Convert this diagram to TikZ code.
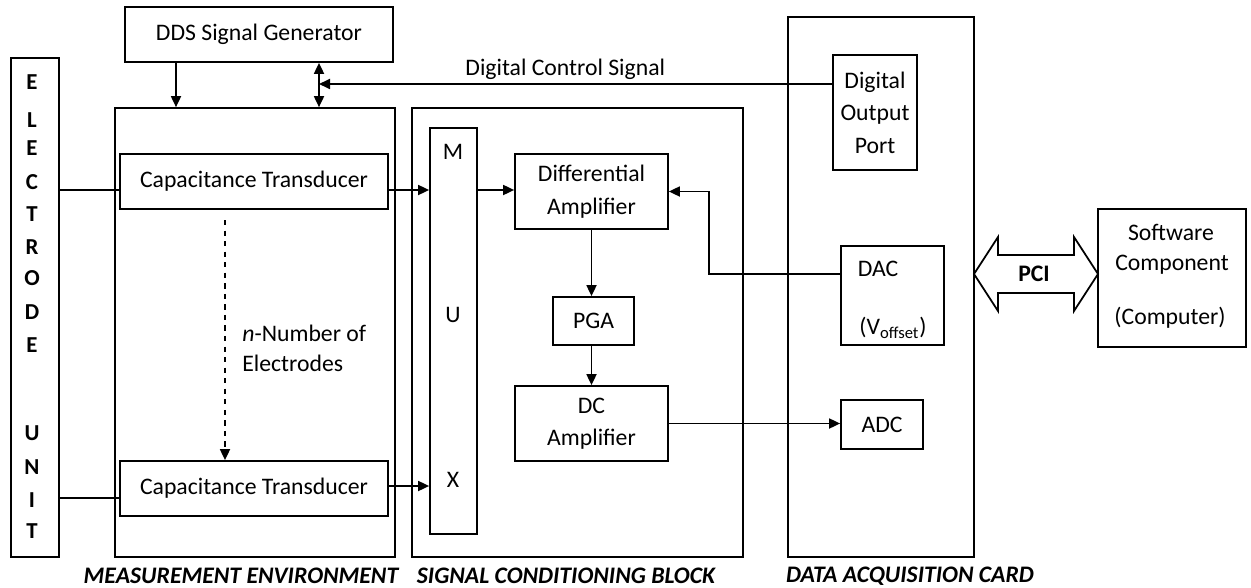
\documentclass[tikz,border=0pt]{standalone}
\usepackage{fontspec}
\setmainfont{Carlito}
\usetikzlibrary{arrows.meta}

\begin{document}
\begin{tikzpicture}[x=0.02cm, y=-0.02cm,
    blk/.style={draw, line width=1pt, align=center, inner sep=0pt,
                font=\fontsize{13.5}{18.5}\selectfont},
    txt/.style={inner sep=0pt, font=\fontsize{13.5}{18.5}\selectfont},
    lbl/.style={inner sep=0pt, font=\bfseries\itshape\fontsize{13.5}{15}\selectfont},
    arr/.style={draw, line width=1pt, -{Triangle[length=2.2mm,width=2mm]}},
    darr/.style={draw, line width=1pt,
                 {Triangle[length=2.2mm,width=2mm]}-{Triangle[length=2.2mm,width=2mm]}},
    ln/.style={draw, line width=1pt}
  ]
  \useasboundingbox (0,0) rectangle (1251,588);

  % electrode unit
  \node[blk, minimum width=0.96cm, minimum height=9.98cm] (elec) at (35,307.5) {};
  \foreach \y/\c in {82/E,120/L,148/E,182/C,214/T,247/R,278/O,312/D,345/E,
                     433/U,467/N,500/I,531/T}
    \node[txt, font=\bfseries\fontsize{13}{14}\selectfont] at (32,\y) {\c};

  % measurement environment
  \node[blk, minimum width=5.36cm, minimum height=1.1cm] (dds) at (259,34.5) {DDS Signal Generator};
  \node[blk, minimum width=5.6cm, minimum height=8.98cm] (meas) at (255,332.5) {};
  \node[blk, minimum width=5.36cm, minimum height=1.1cm] (ct1) at (254,181.5) {Capacitance Transducer};
  \node[blk, minimum width=5.36cm, minimum height=1.1cm] (ct2) at (254,488.5) {Capacitance Transducer};
  \node[txt, align=left, anchor=west, font=\fontsize{13.5}{17}\selectfont] (nel) at (242,348)
    {\textit{n}-Number of\\Electrodes};

  % signal conditioning block
  \node[blk, minimum width=6.62cm, minimum height=8.98cm] (sig) at (577.5,332.5) {};
  \node[blk, minimum width=0.94cm, minimum height=8.12cm] (mux) at (453.5,331) {};
  \foreach \y/\c in {152/M,315/U,480/X}
    \node[txt] at (453,\y) {\c};
  \node[blk, minimum width=3.06cm, minimum height=1.5cm] (diff) at (591.5,191.5) {Differential\\Amplifier};
  \node[blk, minimum width=1.62cm, minimum height=0.96cm] (pga) at (593.5,321) {PGA};
  \node[blk, minimum width=3.06cm, minimum height=1.5cm] (dc) at (591.5,423.5) {DC\\Amplifier};

  % data acquisition card
  \node[blk, minimum width=3.72cm, minimum height=10.8cm] (daq) at (881,287) {};
  \node[blk, minimum width=1.68cm, minimum height=2.3cm] (dop) at (875,112.5) {Digital\\Output\\Port};
  \node[blk, minimum width=2.06cm, minimum height=1.98cm] (dac) at (892.5,295.5) {};
  \node[txt] at (878,269) {DAC};
  \node[txt] at (893,328) {(V\textsubscript{offset})};
  \node[blk, minimum width=1.64cm, minimum height=0.98cm] (adc) at (882,424.5) {ADC};

  % computer side
  \draw[ln] (974,274) -- (998,237) -- (998,255) -- (1074,255) -- (1074,237) -- (1098,274)
    -- (1074,311) -- (1074,293) -- (998,293) -- (998,311) -- cycle;
  \node[txt, font=\bfseries\fontsize{13.5}{15}\selectfont] (pci) at (1034,274) {PCI};
  \node[blk, minimum width=2.96cm, minimum height=2.76cm] (sw) at (1172,278) {};
  \node[txt] at (1171,232) {Software};
  \node[txt] at (1172,265) {Component};
  \node[txt] at (1170,318) {(Computer)};

  % connections
  \coordinate (rowa) at (0,190);
  \coordinate (rowb) at (0,498);
  \coordinate (rowc) at (0,486);
  \coordinate (cl) at (176,0);
  \coordinate (cr) at (319,0);
  \coordinate (dcs) at (319,84);
  \coordinate (nd) at (225,220);
  \coordinate (bend) at (709,274);
  \draw[ln] (elec.east |- rowa) -- (ct1.west |- rowa);
  \draw[ln] (elec.east |- rowb) -- (ct2.west |- rowb);
  \draw[arr] (dds.south -| cl) -- (meas.north -| cl);
  \draw[darr] (dds.south -| cr) -- (meas.north -| cr);
  \draw[arr] (dop.west |- dcs) -- node[txt, pos=0.52, above=2pt] {Digital Control Signal} (dcs);
  \draw[arr, dashed] (nd) -- (nd |- ct2.north);
  \draw[arr] (ct1.east |- rowa) -- (mux.west |- rowa);
  \draw[arr] (ct2.east |- rowc) -- (mux.west |- rowc);
  \draw[arr] (mux.east |- rowa) -- (diff.west |- rowa);
  \draw[arr] (diff.south) -- (diff.south |- pga.north);
  \draw[arr] (pga.south -| diff.south) -- (diff.south |- dc.north);
  \draw[arr] (dc.east) -- (dc.east -| adc.west);
  \draw[arr] (dac.west |- bend) -- (bend) |- (diff.east);

  % block titles
  \node[lbl] at (241,576) {MEASUREMENT ENVIRONMENT};
  \node[lbl] at (566,576) {SIGNAL CONDITIONING BLOCK};
  \node[lbl] at (910,576) {DATA ACQUISITION CARD};
\end{tikzpicture}
\end{document}
